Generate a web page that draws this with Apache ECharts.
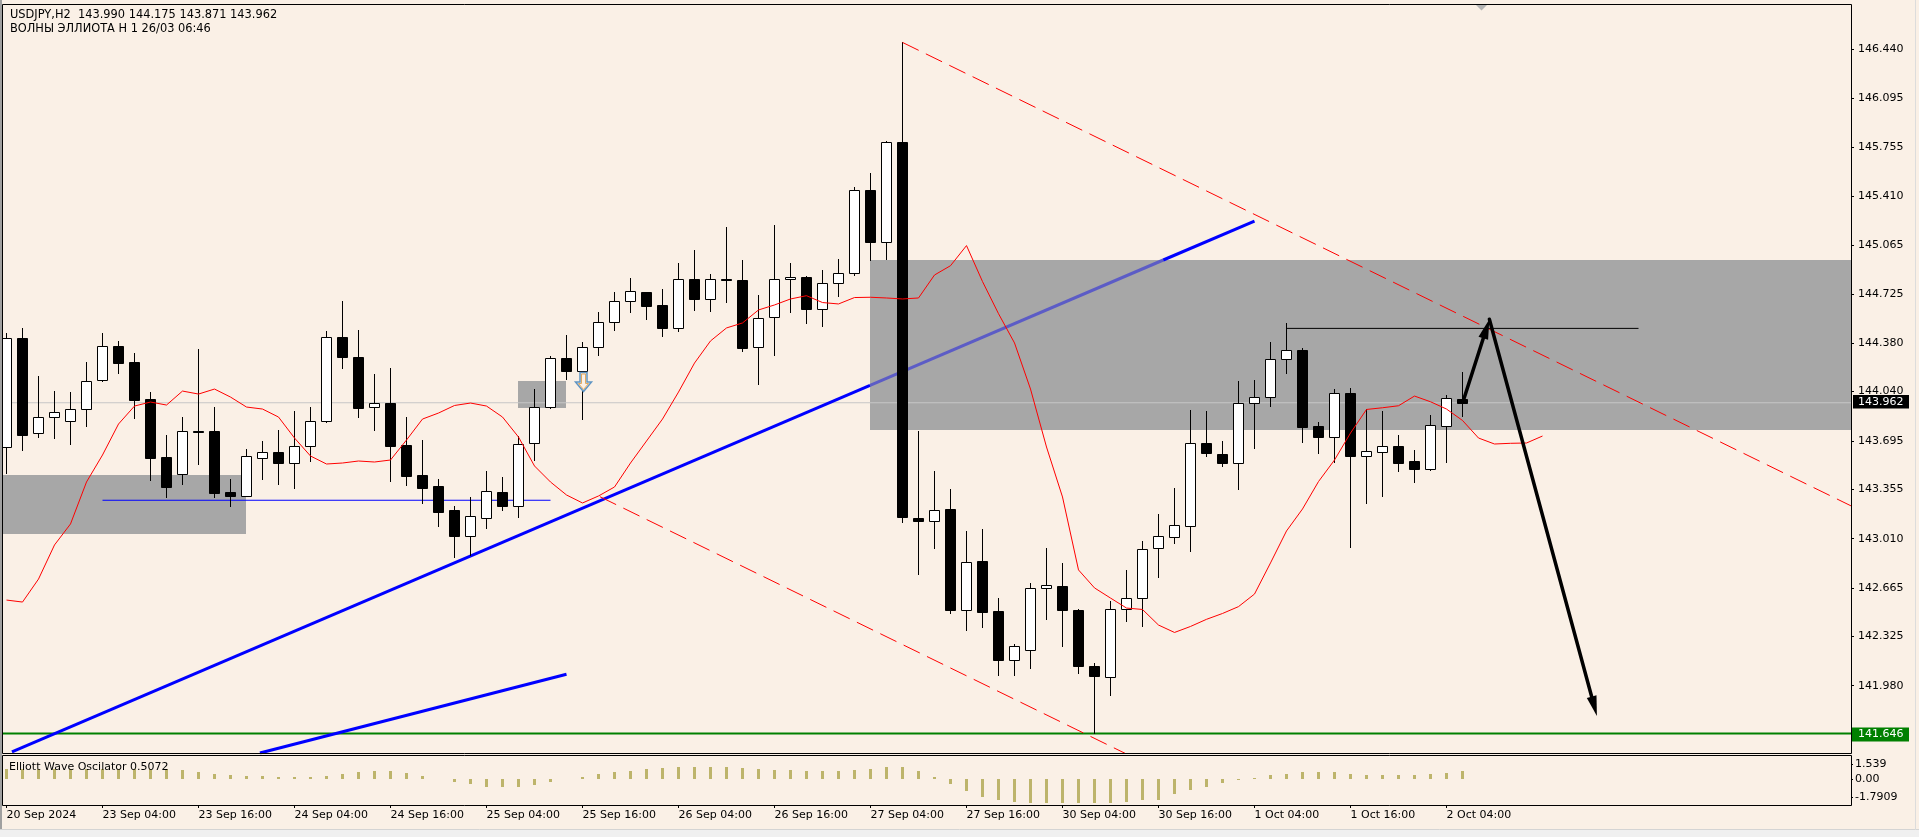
<!DOCTYPE html>
<html><head><meta charset="utf-8">
<script src="https://cdn.jsdelivr.net/npm/echarts@6/dist/echarts.min.js"></script>
<style>html,body{margin:0;padding:0;background:#faf0e6;overflow:hidden}#c{width:1919px;height:837px}</style>
</head><body><div id="c"></div>
<script>
const FONT = '"DejaVu Sans", Tahoma, sans-serif';
const headerLine1 = 'USDJPY,H2  143.990 144.175 143.871 143.962';
const headerLine2 = 'ВОЛНЫ ЭЛЛИОТА Н 1 26/03 06:46';
const oscName = 'Elliott Wave Oscilator 0.5072';

const timeTickLabels = ['20 Sep 2024','23 Sep 04:00','23 Sep 16:00','24 Sep 04:00','24 Sep 16:00','25 Sep 04:00','25 Sep 16:00','26 Sep 04:00','26 Sep 16:00','27 Sep 04:00','27 Sep 16:00','30 Sep 04:00','30 Sep 16:00','1 Oct 04:00','1 Oct 16:00','2 Oct 04:00'];
const barsPerTimeLabel = 6;
const priceTickLabels = ['146.440','146.095','145.755','145.410','145.065','144.725','144.380','144.040','143.695','143.355','143.010','142.665','142.325','141.980'];
const oscTickLabels = ['1.539','0.00','-1.7909'];

// OHLC of the 92 H2 bars (20 Sep 16:00 .. 2 Oct 06:00)
const opens = [143.654,144.414,143.748,143.864,143.836,143.916,144.119,144.360,144.247,143.989,
143.582,143.461,143.765,143.764,143.337,143.311,143.573,143.617,143.542,143.659,
143.832,144.420,144.280,143.930,143.958,143.666,143.456,143.379,143.211,143.031,
143.153,143.335,143.241,143.678,143.930,144.273,144.187,144.350,144.526,144.673,
144.736,144.645,144.483,144.827,144.687,144.829,144.820,144.350,144.560,144.827,
144.845,144.617,144.799,144.869,145.454,145.085,145.789,143.158,143.133,143.218,
142.507,142.855,142.505,142.157,142.227,142.667,142.680,142.511,142.117,142.040,
142.520,142.592,142.945,143.024,143.101,143.678,143.603,143.542,143.958,144.000,
144.266,144.332,143.799,143.724,144.028,143.591,143.617,143.657,143.552,143.500,
143.801,143.990];
const highs = [144.449,144.484,144.149,144.047,144.037,144.250,144.451,144.395,144.310,144.037,
143.736,143.862,144.336,143.932,143.426,143.636,143.694,143.771,143.904,143.932,
144.463,144.675,144.472,144.163,144.203,143.860,143.701,143.428,143.239,143.302,
143.482,143.440,143.729,144.058,144.290,144.437,144.386,144.596,144.736,144.834,
144.740,144.757,144.939,145.032,144.864,145.191,144.962,144.717,145.207,144.939,
144.850,144.890,144.967,145.470,145.572,145.798,146.486,143.765,143.484,143.359,
143.064,143.077,142.595,142.274,142.702,142.945,142.843,142.515,142.142,142.570,
142.789,142.992,143.186,143.363,143.911,143.904,143.694,144.114,144.121,144.388,
144.519,144.343,143.827,144.058,144.067,143.916,143.904,143.736,143.631,143.876,
144.016,144.175];
const lows = [143.470,143.631,143.724,143.713,143.673,143.799,144.115,144.173,143.857,143.421,
143.304,143.395,143.535,143.304,143.241,143.308,143.428,143.395,143.367,143.554,
143.825,144.208,143.864,143.773,143.416,143.386,143.262,143.101,142.884,142.896,
143.087,143.213,143.164,143.561,143.925,144.128,143.848,144.297,144.472,144.600,
144.551,144.432,144.467,144.612,144.607,144.670,144.327,144.096,144.297,144.600,
144.523,144.502,144.712,144.857,144.963,144.972,143.124,142.764,142.945,142.486,
142.373,142.392,142.054,142.054,142.101,142.445,142.258,142.070,141.646,141.913,
142.436,142.398,142.742,142.982,142.926,143.591,143.521,143.360,143.647,143.941,
144.173,143.689,143.612,143.549,142.954,143.262,143.309,143.486,143.409,143.491,
143.549,143.871];
const closes = [144.414,143.736,143.860,143.895,143.916,144.114,144.360,144.243,143.981,143.577,
143.374,143.762,143.760,143.332,143.311,143.587,143.615,143.542,143.659,143.832,
144.420,144.280,143.927,143.958,143.661,143.451,143.367,143.199,143.031,143.167,
143.342,143.241,143.671,143.932,144.273,144.187,144.350,144.526,144.673,144.743,
144.642,144.483,144.827,144.687,144.827,144.822,144.348,144.554,144.827,144.845,
144.617,144.799,144.869,145.454,145.085,145.789,143.165,143.133,143.214,142.507,
142.846,142.498,142.157,142.255,142.664,142.687,142.507,142.117,142.048,142.514,
142.592,142.936,143.030,143.104,143.678,143.612,143.542,143.958,144.000,144.266,
144.329,143.794,143.724,144.028,143.591,143.622,143.657,143.542,143.500,143.804,
143.993,143.962];

// shifted moving average (red), bars 0..96
const maValues = [142.580,142.566,142.727,142.966,143.113,143.407,143.596,143.813,143.939,143.967,
143.946,144.044,144.023,144.058,144.002,143.932,143.918,143.862,143.715,143.589,
143.533,143.540,143.554,143.547,143.561,143.701,143.848,143.890,143.943,143.960,
143.939,143.862,143.722,143.519,143.407,143.316,143.260,143.309,143.372,143.540,
143.694,143.848,144.037,144.240,144.395,144.486,144.521,144.612,144.647,144.689,
144.712,144.664,144.654,144.699,144.701,144.696,144.689,144.696,144.857,144.922,
145.063,144.811,144.586,144.381,144.058,143.652,143.302,142.791,142.665,142.594,
142.524,142.514,142.405,142.353,142.395,142.445,142.486,142.534,142.622,142.840,
143.064,143.218,143.410,143.561,143.750,143.915,143.927,143.941,144.009,143.969,
143.918,143.838,143.715,143.673,143.678,143.680,143.729];

// Elliott Wave Oscillator histogram
const oscValues = [1.05,1.05,1.0,1.0,1.0,1.0,1.0,1.0,1.0,1.0,
1.0,0.97,0.73,0.57,0.40,0.37,0.30,0.23,0.20,0.27,
0.37,0.53,0.73,0.80,0.80,0.60,0.30,0.05,-0.27,-0.50,
-0.77,-0.77,-0.73,-0.60,-0.27,0.05,0.23,0.50,0.73,0.87,
1.00,1.13,1.20,1.20,1.20,1.20,1.13,1.07,0.97,0.97,
0.87,0.87,0.87,0.97,1.00,1.20,1.20,0.87,0.20,-0.43,
-1.17,-1.80,-2.03,-2.27,-2.33,-2.33,-2.33,-2.33,-2.33,-2.33,
-2.27,-2.10,-2.03,-1.50,-1.03,-0.77,-0.37,-0.05,0.10,0.40,
0.50,0.73,0.73,0.73,0.53,0.40,0.40,0.40,0.40,0.53,
0.63,0.87];

const bidPrice = 143.962;
const supportPrice = 141.646;
// zones: [barFrom, barTo, priceTop, priceBottom]
const zones = [[-1, 14.95, 143.457, 143.045],[31.95, 34.97, 144.114, 143.927],[53.97, 116, 144.962, 143.773]];
const blueTrend1 = [[0.34, 141.516],[78.0, 145.235]];
const blueTrend2 = [[15.84, 141.509],[35.0, 142.060]];
const blueLevel = [[6, 143.279],[34, 143.279]];
const redChannelUpper = [[56, 146.486],[115.28, 143.240]];
const redChannelLower = [[37.09, 143.304],[72, 141.392]];
const blackLevel = [[80, 144.483],[102, 144.483]];
const arrows = [[91.1, 143.993, 92.68, 144.547],[92.68, 144.547, 99.4, 141.768]];
const signalArrow = [[36, 144.108]];

const XMIN = -0.21875, XMAX = 115.28125;
const YMIN = 141.50862, YMAX = 146.74821;
const PLOT = {left: 3, top: 5, width: 1848, height: 748};
const OSCG = {left: 3, top: 755, width: 1848, height: 50};
function yPix(p) { return PLOT.top + (YMAX - p) / (YMAX - YMIN) * PLOT.height; }
function lerp(a, b, t) { return [a[0] + (b[0] - a[0]) * t, a[1] + (b[1] - a[1]) * t]; }

const zc = zones[2];
const bA = blueTrend1[0], bB = blueTrend1[1];
const pIn = lerp(bA, bB, (zc[0] - bA[0]) / (bB[0] - bA[0]));
const pOut = lerp(bA, bB, (zc[2] - bA[1]) / (bB[1] - bA[1]));

const timeTickBars = timeTickLabels.map((_, k) => k * barsPerTimeLabel);
const priceTicks = priceTickLabels.map(Number);
const oscTicks = oscTickLabels.map(Number);

const chart = echarts.init(document.getElementById('c'), null, {renderer: 'canvas', width: 1919, height: 837});

function lineSeries(data, color, width, z, type) {
  return {type: 'line', xAxisIndex: 0, yAxisIndex: 0, data: data, symbol: 'none', silent: true, z: z,
    lineStyle: {color: color, width: width, type: type || 'solid'}, clip: true, animation: false};
}

const option = {
  animation: false,
  backgroundColor: '#faf0e6',
  grid: [
    {left: PLOT.left, top: PLOT.top, width: PLOT.width, height: PLOT.height},
    {left: OSCG.left, top: OSCG.top, width: OSCG.width, height: OSCG.height}
  ],
  xAxis: [
    {type: 'value', gridIndex: 0, min: XMIN, max: XMAX, show: false, axisLine: {onZero: false}},
    {type: 'value', gridIndex: 1, min: XMIN, max: XMAX, position: 'bottom',
      axisLine: {show: false, onZero: false}, splitLine: {show: false},
      axisTick: {show: true, customValues: timeTickBars, length: 3, lineStyle: {color: '#000'}},
      axisLabel: {customValues: timeTickBars, formatter: v => timeTickLabels[Math.round(v / barsPerTimeLabel)],
        align: 'left', margin: 5, fontFamily: FONT, fontSize: 11, color: '#000'}}
  ],
  yAxis: [
    {type: 'value', gridIndex: 0, position: 'right', min: YMIN, max: YMAX,
      axisLine: {show: false, onZero: false}, splitLine: {show: false},
      axisTick: {show: true, customValues: priceTicks, length: 3, lineStyle: {color: '#000'}},
      axisLabel: {customValues: priceTicks, formatter: v => v.toFixed(3), margin: 7,
        fontFamily: FONT, fontSize: 11, color: '#000'}},
    {type: 'value', gridIndex: 1, position: 'right', min: -2.57, max: 2.43,
      axisLine: {show: false, onZero: false}, splitLine: {show: false},
      axisTick: {show: true, customValues: oscTicks, length: 2, lineStyle: {color: '#000'}},
      axisLabel: {customValues: oscTicks, margin: 4,
        formatter: v => { const k = oscTicks.findIndex(t => Math.abs(t - v) < 1e-6); return k >= 0 ? oscTickLabels[k] : ''; },
        fontFamily: FONT, fontSize: 11, color: '#000'}}
  ],
  series: [
    {type: 'custom', xAxisIndex: 0, yAxisIndex: 0, clip: true, z: 1, silent: true,
      data: zones, encode: {x: [0, 1], y: [2, 3]},
      renderItem: (params, api) => {
        const p0 = api.coord([api.value(0), api.value(2)]);
        const p1 = api.coord([api.value(1), api.value(3)]);
        return {type: 'rect', shape: {x: Math.round(p0[0]), y: Math.round(p0[1]), width: Math.round(p1[0]) - Math.round(p0[0]), height: Math.round(p1[1]) - Math.round(p0[1])},
          style: {fill: '#a7a7a7'}};
      }},
    lineSeries([[XMIN, bidPrice], [XMAX, bidPrice]], '#c6c6c6', 1, 2),
    lineSeries([[XMIN, supportPrice], [XMAX, supportPrice]], '#008000', 2, 2),
    lineSeries(blueLevel, '#0000ff', 1, 3),
    lineSeries([bA, pIn], '#0000ff', 3, 3),
    lineSeries([pIn, pOut], '#5c5cc6', 3, 3),
    lineSeries([pOut, bB], '#0000ff', 3, 3),
    lineSeries(blueTrend2, '#0000ff', 3, 3),
    {type: 'custom', xAxisIndex: 0, yAxisIndex: 0, clip: true, z: 4, silent: true,
      data: opens.map((o, i) => [i, o, highs[i], lows[i], closes[i]]),
      encode: {x: 0, y: [1, 2, 3, 4]},
      renderItem: (params, api) => {
        const i = api.value(0), o = api.value(1), h = api.value(2), l = api.value(3), c = api.value(4);
        const x = Math.floor(api.coord([i, o])[0]) + 0.5;
        const yo = api.coord([i, o])[1], yc = api.coord([i, c])[1];
        const yh = api.coord([i, h])[1], yl = api.coord([i, l])[1];
        const top = Math.round(Math.min(yo, yc)) + 0.5;
        let bot = Math.round(Math.max(yo, yc)) + 0.5;
        if (bot - top < 1) bot = top + 1;
        const bull = c >= o;
        return {type: 'group', children: [
          {type: 'line', shape: {x1: x, y1: Math.round(yh), x2: x, y2: Math.round(yl) + 1}, style: {stroke: '#000', lineWidth: 1}},
          {type: 'rect', shape: {x: x - 5, y: top, width: 10, height: bot - top}, style: {fill: bull ? '#ffffff' : '#000000', stroke: '#000', lineWidth: 1}}
        ]};
      }},
    lineSeries(maValues.map((v, i) => [i, v]), '#ff0000', 1, 5),
    lineSeries(redChannelUpper, '#ff0000', 1, 5, [18, 8]),
    lineSeries(redChannelLower, '#ff0000', 1, 5, [18, 8]),
    lineSeries(blackLevel, '#000000', 1, 6),
    {type: 'custom', xAxisIndex: 0, yAxisIndex: 0, clip: true, z: 7, silent: true,
      data: arrows, encode: {x: [0, 2], y: [1, 3]},
      renderItem: (params, api) => {
        const p0 = api.coord([api.value(0), api.value(1)]);
        const p1 = api.coord([api.value(2), api.value(3)]);
        const dx = p1[0] - p0[0], dy = p1[1] - p0[1], len = Math.hypot(dx, dy);
        const ux = dx / len, uy = dy / len, L = 20, W = 5;
        const bx = p1[0] - ux * L, by = p1[1] - uy * L;
        return {type: 'group', children: [
          {type: 'line', shape: {x1: p0[0], y1: p0[1], x2: bx + ux * 4, y2: by + uy * 4}, style: {stroke: '#000', lineWidth: 3.5, lineCap: 'round'}},
          {type: 'polygon', shape: {points: [[p1[0], p1[1]], [bx - uy * W, by + ux * W], [bx + uy * W, by - ux * W]]}, style: {fill: '#000'}}
        ]};
      }},
    {type: 'custom', xAxisIndex: 0, yAxisIndex: 0, clip: true, z: 7, silent: true,
      data: signalArrow, encode: {x: 0, y: 1},
      renderItem: (params, api) => {
        const p = api.coord([api.value(0), api.value(1)]);
        const cx = Math.round(p[0]) + 0.5, cy = Math.round(p[1]);
        const pts = [[-3.5, -9.5], [3.5, -9.5], [3.5, 0], [8, 0], [0, 9.5], [-8, 0], [-3.5, 0]].map(q => [cx + q[0], cy + q[1]]);
        const inner = [[-2, -8], [2, -8], [2, 1.5], [5, 1.5], [0, 7.5], [-5, 1.5], [-2, 1.5]].map(q => [cx + q[0], cy + q[1]]);
        return {type: 'group', children: [
          {type: 'polygon', shape: {points: pts}, style: {fill: '#faf0e6', stroke: '#5f95c4', lineWidth: 1.5}},
          {type: 'polygon', shape: {points: inner}, style: {fill: 'none', stroke: '#e0a860', lineWidth: 1}}
        ]};
      }},
    {type: 'custom', xAxisIndex: 1, yAxisIndex: 1, clip: true, z: 3, silent: true,
      data: oscValues.map((v, i) => [i, v]), encode: {x: 0, y: 1},
      renderItem: (params, api) => {
        const i = api.value(0), v = api.value(1);
        const p0 = api.coord([i, 0]), p1 = api.coord([i, v]);
        const x = Math.floor(p0[0]) + 0.5;
        return {type: 'line', shape: {x1: x, y1: Math.round(p0[1]), x2: x, y2: Math.round(p1[1])}, style: {stroke: '#bdb46b', lineWidth: 3}};
      }}
  ],
  graphic: []
};
chart.setOption(option);

const yb = yPix(bidPrice), yg = yPix(supportPrice);
chart.setOption({graphic: [
  {type: 'rect', z: 100, shape: {x: 0, y: 0, width: 2, height: 830}, style: {fill: '#a0a0a0'}},
  {type: 'rect', z: 100, shape: {x: 2.5, y: 4.5, width: 1849, height: 749}, style: {fill: 'none', stroke: '#000', lineWidth: 1}},
  {type: 'rect', z: 100, shape: {x: 2.5, y: 755.5, width: 1849, height: 50}, style: {fill: 'none', stroke: '#000', lineWidth: 1}},
  {type: 'rect', z: 100, shape: {x: 0, y: 830, width: 1919, height: 7}, style: {fill: '#f0f0f0'}},
  {type: 'line', z: 100, shape: {x1: 0, y1: 829.5, x2: 1919, y2: 829.5}, style: {stroke: '#d4d4d4', lineWidth: 1}},
  {type: 'line', z: 100, shape: {x1: 1915.5, y1: 0, x2: 1915.5, y2: 830}, style: {stroke: '#dcdcdc', lineWidth: 1}},
  {type: 'polygon', z: 100, shape: {points: [[1476, 5], [1487, 5], [1481.5, 10.5]]}, style: {fill: '#b4b4b4'}},
  {type: 'text', z: 100, style: {text: headerLine1, x: 10, y: 15, fill: '#000', font: '11.4px ' + FONT, verticalAlign: 'middle'}},
  {type: 'text', z: 100, style: {text: headerLine2, x: 10, y: 29, fill: '#000', font: '11.4px ' + FONT, verticalAlign: 'middle'}},
  {type: 'text', z: 100, style: {text: oscName, x: 9, y: 767, fill: '#000', font: '11px ' + FONT, verticalAlign: 'middle'}},
  {type: 'rect', z: 101, shape: {x: 1853, y: Math.round(yb) - 8, width: 56, height: 13.5}, style: {fill: '#000'}},
  {type: 'text', z: 102, style: {text: bidPrice.toFixed(3), x: 1858, y: Math.round(yb) - 1.2, fill: '#fff', font: '11px ' + FONT, verticalAlign: 'middle'}},
  {type: 'rect', z: 101, shape: {x: 1852, y: Math.round(yg) - 5.5, width: 57, height: 14}, style: {fill: '#008000'}},
  {type: 'text', z: 102, style: {text: supportPrice.toFixed(3), x: 1858, y: Math.round(yg) + 1.5, fill: '#fff', font: '11px ' + FONT, verticalAlign: 'middle'}}
]});
</script>
</body></html>
